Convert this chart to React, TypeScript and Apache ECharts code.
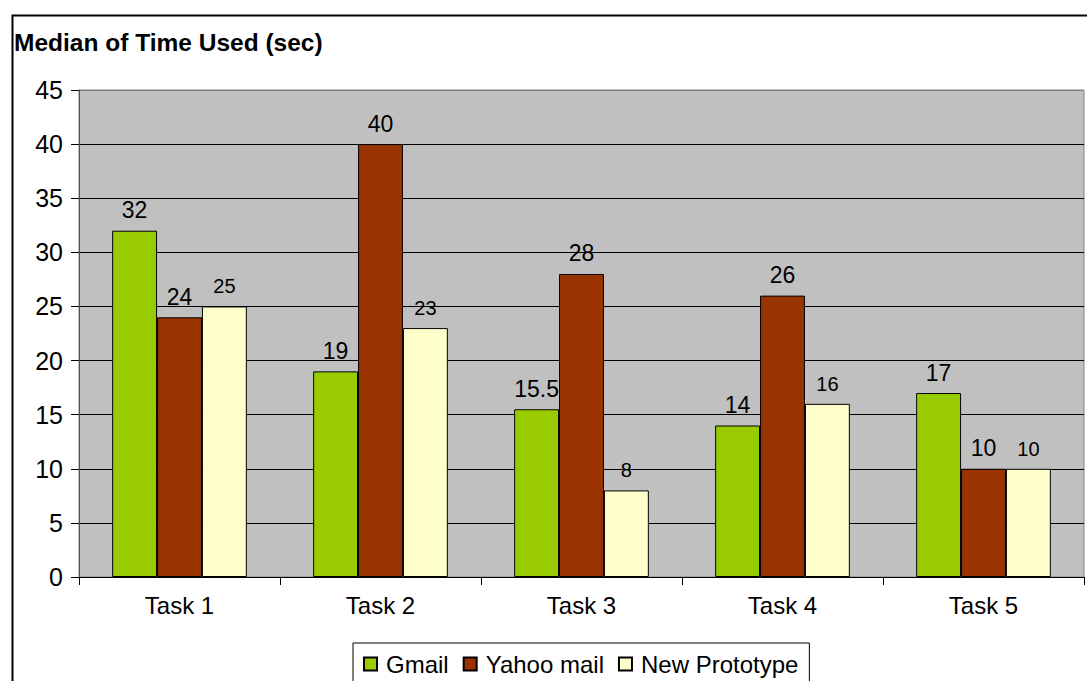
import React, { useEffect, useRef } from "react";
import * as echarts from "echarts";

const categories = ["Task 1", "Task 2", "Task 3", "Task 4", "Task 5"];
const gmail = [32, 19, 15.5, 14, 17];
const yahooMail = [24, 40, 28, 26, 10];
const newPrototype = [25, 23, 8, 16, 10];
const yTicks = { min: 0, max: 45, interval: 5 };

const FONT = "'Liberation Sans', Arial, sans-serif";

export default function App() {
  const ref = useRef<HTMLDivElement>(null);

  useEffect(() => {
    if (!ref.current) return;
    const chart = echarts.init(ref.current, undefined, { renderer: "svg" });

    const lineCount = (yTicks.max - yTicks.min) / yTicks.interval + 1;
    const splitColors = Array.from({ length: lineCount }, (_, i) =>
      i === lineCount - 1 ? "#808080" : "#000000"
    );

    const bigLabel = {
      show: true,
      position: "top" as const,
      distance: 9,
      color: "#000",
      fontFamily: FONT,
      fontSize: 23,
    };

    chart.setOption({
      animation: false,
      backgroundColor: "#ffffff",
      textStyle: { fontFamily: FONT },
      title: {
        text: "Median of Time Used (sec)",
        left: 14,
        top: 30,
        padding: 0,
        textStyle: {
          fontFamily: FONT,
          fontSize: 24.5,
          fontWeight: "bold",
          color: "#000",
        },
      },
      graphic: [
        {
          type: "rect",
          left: 10,
          top: 13,
          shape: { x: 0, y: 0, width: 1200, height: 800 },
          style: { fill: "none", stroke: "#000", lineWidth: 2 },
          silent: true,
          z: -1,
        },
      ],
      legend: {
        left: 353,
        top: 643,
        padding: [9, 11, 30, 10],
        borderColor: "#000",
        borderWidth: 1,
        itemGap: 14,
        itemWidth: 13,
        itemHeight: 13,
        icon: "rect",
        textStyle: {
          fontFamily: FONT,
          fontSize: 24,
          color: "#000",
          padding: [0, 0, 0, 4],
        },
        data: ["Gmail", "Yahoo mail", "New Prototype"],
      },
      grid: {
        left: 79,
        right: 3,
        top: 90,
        bottom: 104,
        show: true,
        backgroundColor: "#C0C0C0",
        borderColor: "#808080",
        borderWidth: 1,
      },
      xAxis: {
        type: "category",
        data: categories,
        axisLine: { show: true, lineStyle: { color: "#000", width: 1 } },
        axisTick: { show: true, length: 8, lineStyle: { color: "#000" } },
        axisLabel: {
          fontFamily: FONT,
          fontSize: 24,
          color: "#000",
          margin: 16,
        },
        splitLine: { show: false },
      },
      yAxis: {
        type: "value",
        min: yTicks.min,
        max: yTicks.max,
        interval: yTicks.interval,
        axisLine: { show: true, lineStyle: { color: "#555", width: 1 } },
        axisTick: { show: true, length: 8, lineStyle: { color: "#000" } },
        axisLabel: {
          fontFamily: FONT,
          fontSize: 25,
          color: "#000",
          margin: 16,
        },
        splitLine: { show: true, lineStyle: { color: splitColors, width: 1 } },
      },
      series: [
        {
          name: "Gmail",
          type: "bar",
          data: gmail,
          barGap: "0%",
          barCategoryGap: "33%",
          itemStyle: { color: "#99CC00", borderColor: "#000", borderWidth: 1 },
          label: bigLabel,
        },
        {
          name: "Yahoo mail",
          type: "bar",
          data: yahooMail,
          barGap: "0%",
          barCategoryGap: "33%",
          itemStyle: { color: "#993300", borderColor: "#000", borderWidth: 1 },
          label: bigLabel,
        },
        {
          name: "New Prototype",
          type: "bar",
          data: newPrototype,
          barGap: "0%",
          barCategoryGap: "33%",
          itemStyle: { color: "#FFFFCC", borderColor: "#000", borderWidth: 1 },
          label: { ...bigLabel, fontSize: 20, distance: 10 },
        },
      ],
    });

    return () => chart.dispose();
  }, []);

  return (
    <div
      ref={ref}
      style={{ position: "absolute", left: 0, top: 0, width: 1087, height: 681 }}
    />
  );
}
